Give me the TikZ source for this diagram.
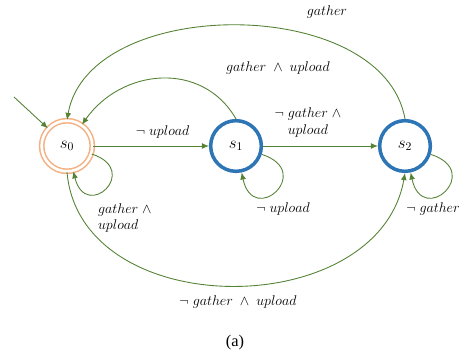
\documentclass[tikz,border=0pt]{standalone}
\usepackage{amsmath,amssymb}
\usepackage{fontspec}
\usepackage{tikz}
\usetikzlibrary{arrows.meta}

\newfontfamily\capfont{Liberation Serif}
\definecolor{edgegreen}{RGB}{84,130,53}
\definecolor{stateblue}{RGB}{46,117,182}
\definecolor{startorange}{RGB}{244,177,131}

\begin{document}
\begin{tikzpicture}[>={Latex[length=6pt,width=5pt]},
  font=\fontsize{12}{14.4}\selectfont,
  state/.style={circle,draw=stateblue,line width=3pt,minimum size=1.52cm,inner sep=0pt,font=\fontsize{14}{16}\selectfont},
  startstate/.style={circle,draw=startorange,double,line width=1.3pt,double distance=2.3pt,minimum size=1.52cm,inner sep=0pt,font=\fontsize{14}{16}\selectfont},
  trans/.style={->,draw=edgegreen,line width=0.75pt}]
\useasboundingbox (0,0) rectangle (13.89,10.8);

\node[startstate] (s0) at (2.01,6.42) {$s_0$};
\node[state] (s1) at (7.08,6.42) {$s_1$};
\node[state] (s2) at (12.15,6.42) {$s_2$};
\coordinate (entry) at (0.42,7.89);

\draw[trans] (entry) -- (s0);
\draw[trans] (s0) -- node[pos=0.6,above=3pt] (l01) {$\neg\; upload$} (s1);
\draw[trans] (s1) -- node[pos=0.39,above=4pt,align=center] (l12) {$\neg\; gather \;\wedge$\\$upload$} (s2);
\draw[trans] (s2.north) to[out=100,in=80,looseness=0.96] (s0.north);
\draw[trans] (s1.north) to[out=120,in=55,looseness=1.13] (s0);
\draw[trans] (s0.south) to[out=-85,in=-100,looseness=1.15] (s2.south);
\draw[trans] (s0) to[out=-18,in=-76,looseness=5.3] (s0);
\draw[trans] (s1) to[out=-18,in=-78,looseness=5.3] (s1);
\draw[trans] (s2) to[out=-18,in=-78,looseness=5.3] (s2);

% labels of the curved edges
\node (l20) at (9.81,10.44) {$gather$};
\node (l10) at (8.34,8.76) {$gather \;\wedge\; upload$};
\node[anchor=west,align=left] (l00) at (2.82,4.26) {$gather \;\wedge$\\$upload$};
\node (l11) at (8.49,4.53) {$\neg\; upload$};
\node (l22) at (12.99,4.53) {$\neg\; gather$};
\node (l02) at (7.14,1.74) {$\neg\; gather \;\wedge\; upload$};

\node[font=\capfont\fontsize{14}{16}\selectfont] (cap) at (7.05,0.51) {(a)};
\end{tikzpicture}
\end{document}
